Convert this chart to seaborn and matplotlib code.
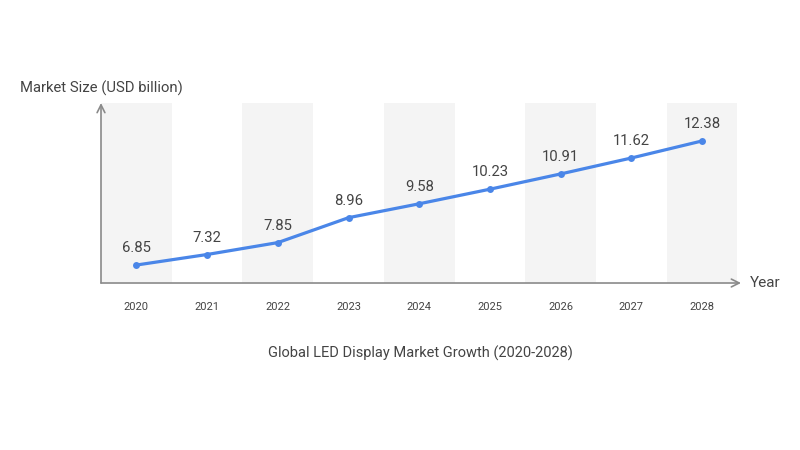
import matplotlib
matplotlib.use("Agg")
import matplotlib.pyplot as plt
import seaborn as sns
import pandas as pd

years = [2020, 2021, 2022, 2023, 2024, 2025, 2026, 2027, 2028]
market_size = [6.85, 7.32, 7.85, 8.96, 9.58, 10.23, 10.91, 11.62, 12.38]
value_labels = ["6.85", "7.32", "7.85", "8.96", "9.58", "10.23", "10.91", "11.62", "12.38"]
title = "Global LED Display Market Growth (2020-2028)"
y_title = "Market Size (USD billion)"
x_title = "Year"

sns.set_theme(style="white")
plt.rcParams["font.family"] = ["Roboto", "DejaVu Sans"]

df = pd.DataFrame({"year": years, "size": market_size})

fig = plt.figure(figsize=(8, 4.5), dpi=100)
ax = fig.add_axes([0.12625, 0.3711, 0.80, 0.40])

text_c = "#444444"
axis_c = "#8a8a8a"
line_c = "#4a86e8"

for i, yr in enumerate(years):
    if i % 2 == 0:
        ax.axvspan(yr - 0.5, yr + 0.5, color="#f4f4f4", zorder=0, lw=0)

sns.lineplot(data=df, x="year", y="size", ax=ax, color=line_c, linewidth=2.3,
             marker="o", markersize=5, markeredgewidth=0, zorder=3)

for yr, v, lab in zip(years, market_size, value_labels):
    ax.annotate(lab, (yr, v), xytext=(0, 7), textcoords="offset points",
                ha="center", va="bottom", fontsize=10.7, color=text_c)

ax.set_xlim(years[0] - 0.5, years[-1] + 0.55)
ax.set_ylim(6.05, 14.07)
ax.set_xticks(years)
ax.set_xticklabels([str(y) for y in years], fontsize=8, color=text_c)
ax.tick_params(axis="x", length=0, pad=14)
ax.set_yticks([])
ax.set_xlabel("")
ax.set_ylabel("")
for s in ax.spines.values():
    s.set_visible(False)

# axes with arrows
ax.annotate("", xy=(1.0, 0), xytext=(0, 0), xycoords="axes fraction",
            arrowprops=dict(arrowstyle="->", color=axis_c, lw=1.2,
                            shrinkA=0, shrinkB=0, mutation_scale=14))
ax.annotate("", xy=(0, 1.0), xytext=(0, 0), xycoords="axes fraction",
            arrowprops=dict(arrowstyle="->", color=axis_c, lw=1.2,
                            shrinkA=0, shrinkB=0, mutation_scale=14))

fig.text(20 / 800, 1 - 88 / 450, y_title, fontsize=10.7, color=text_c,
         ha="left", va="center")
fig.text(750 / 800, 1 - 283 / 450, x_title, fontsize=11, color=text_c,
         ha="left", va="center")
fig.text(420 / 800, 1 - 353 / 450, title, fontsize=10.5, color=text_c,
         ha="center", va="center")

fig.savefig("out.png", dpi=100)
